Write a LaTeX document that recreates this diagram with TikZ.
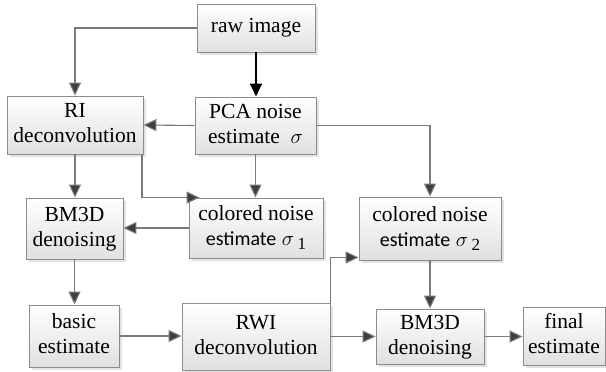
\documentclass[tikz,border=0pt]{standalone}
\usepackage{fontspec}
\setmainfont{Liberation Serif}
\newfontfamily\labelsans{Carlito}
\usetikzlibrary{arrows.meta,shadows}

\definecolor{boxedge}{HTML}{8C8C8C}
\definecolor{boxlow}{HTML}{E0E0E0}
\definecolor{wire}{HTML}{7A7A7A}
\definecolor{tipgray}{HTML}{3F3F3F}
\definecolor{shade}{HTML}{C8C8C8}

% two centred lines of block text
\newcommand{\twolines}[2]{\begin{tabular}{@{}c@{}}#1\\#2\end{tabular}}
% sigma with a lowered index, as printed in the noise blocks
\newcommand{\sigsub}[1]{$\sigma$\,\raisebox{-4pt}{\fontsize{17}{17}\selectfont #1}}

\tikzset{
  block/.style={draw=boxedge, line width=0.9pt, top color=white, bottom color=boxlow,
    inner sep=0pt,
    font=\rmfamily\fontsize{21.5}{25}\selectfont,
    drop shadow={shadow xshift=2.5pt, shadow yshift=-2.5pt, fill=shade}},
  conn/.style={draw=wire, line width=1.1pt,
    -{Triangle[length=13pt,width=12pt,fill=tipgray]}},
  mainconn/.style={draw=black, line width=1.6pt,
    -{Triangle[length=13pt,width=12pt,fill=black]}}
}

\begin{document}
\begin{tikzpicture}[x=1pt,y=-1pt]
  \useasboundingbox (0,0) rectangle (606,372);

  % processing blocks
  \node[block, minimum width=118pt, minimum height=48pt] (raw) at (256,28) {raw image};
  \node[block, minimum width=121pt, minimum height=57pt] (pca) at (255.5,125.5) {\twolines{PCA noise}{estimate \ $\sigma$}};
  \node[block, minimum width=136pt, minimum height=58pt] (ri) at (75,125) {\twolines{RI}{deconvolution}};
  \node[block, minimum width=97pt, minimum height=61pt] (bmA) at (74.5,228.5) {\twolines{BM3D}{denoising}};
  \node[block, minimum width=134pt, minimum height=60pt] (cnA) at (256,228) {\twolines{colored noise}{{\labelsans\fontsize{20}{25}\selectfont estimate} \sigsub{1}}};
  \node[block, minimum width=142pt, minimum height=63pt] (cnB) at (430,228.5) {\twolines{colored noise}{{\labelsans\fontsize{20}{25}\selectfont estimate} \sigsub{2}}};
  \node[block, minimum width=90pt, minimum height=62pt] (basic) at (74,336) {\twolines{basic}{estimate}};
  \node[block, minimum width=148pt, minimum height=67pt] (rwi) at (256,336.5) {\twolines{RWI}{deconvolution}};
  \node[block, minimum width=108pt, minimum height=55pt] (bmB) at (430,336.5) {\twolines{BM3D}{denoising}};
  \node[block, minimum width=82pt, minimum height=58pt] (final) at (564,336) {\twolines{final}{estimate}};

  % data flow
  \draw[conn] (raw.west) -| (ri.north);
  \draw[mainconn] (raw.south) -- (raw.south |- pca.north);
  \draw[conn] (pca.west) -- (ri.east);
  \draw[conn] (pca.east) -| (cnB.north);
  \draw[conn] (ri.south) -- (ri.south |- bmA.north);
  \draw[conn] ([xshift=-1.5pt]ri.south east) |- ([xshift=11pt]cnA.north west);
  \draw[conn] (pca.south) -- (pca.south |- cnA.north);
  \draw[conn] (cnA.west) -- (cnA.west -| bmA.east);
  \draw[conn] (bmA.south) -- (bmA.south |- basic.north);
  \draw[conn] (basic.east) -- (basic.east -| rwi.west);
  \draw[conn] (rwi.east) -- (rwi.east -| bmB.west);
  \draw[conn] (rwi.north east) |- ([yshift=3pt]cnB.south west);
  \draw[conn] (cnB.south) -- (cnB.south |- bmB.north);
  \draw[conn] (bmB.east) -- (bmB.east -| final.west);
\end{tikzpicture}
\end{document}
